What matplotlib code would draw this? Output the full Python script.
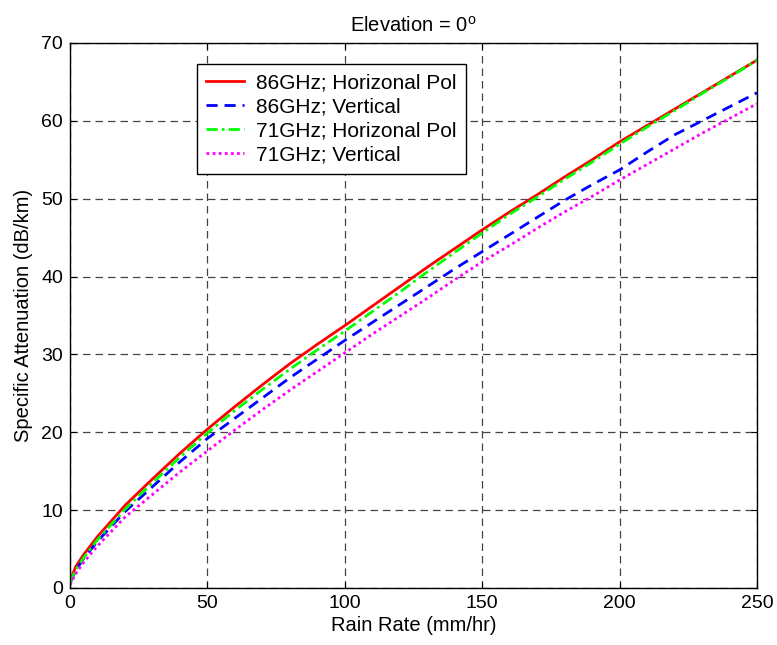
import matplotlib
matplotlib.use("Agg")
import matplotlib.pyplot as plt

plt.rcParams['font.family'] = ['Liberation Sans', 'DejaVu Sans']
plt.rcParams['mathtext.fontset'] = 'custom'
plt.rcParams['mathtext.rm'] = 'Liberation Sans'

rain = [0, 2, 5, 10, 20, 30, 40, 50, 60, 70, 80, 90, 100, 110, 120, 130, 140,
        150, 160, 170, 180, 190, 200, 210, 220, 230, 240, 250]

h86 = [0.8, 2.7, 4.3, 6.6, 10.6, 14.0, 17.3, 20.4, 23.3, 26.1, 28.8, 31.3, 33.7,
       36.2, 38.7, 41.2, 43.6, 46.0, 48.3, 50.5, 52.8, 55.0, 57.3, 59.4, 61.5,
       63.6, 65.7, 67.8]
v86 = [0.6, 2.2, 3.8, 6.0, 9.8, 13.0, 16.2, 19.2, 21.8, 24.4, 27.0, 29.4, 31.8,
       34.1, 36.4, 38.7, 41.0, 43.2, 45.4, 47.6, 49.8, 51.8, 53.7, 56.0, 58.2,
       60.0, 61.8, 63.6]
h71 = [0.7, 2.3, 3.9, 6.2, 10.1, 13.5, 16.8, 19.9, 22.8, 25.5, 28.1, 30.6, 33.0,
       35.5, 38.0, 40.6, 43.1, 45.6, 48.0, 50.2, 52.5, 54.7, 57.0, 59.2, 61.3,
       63.5, 65.6, 67.8]
v71 = [0.4, 1.8, 3.3, 5.4, 9.1, 12.0, 14.9, 17.6, 20.3, 22.9, 25.4, 27.8, 30.2,
       32.6, 34.9, 37.2, 39.6, 41.9, 44.0, 46.2, 48.3, 50.3, 52.4, 54.4, 56.4,
       58.4, 60.3, 62.2]

fig = plt.figure(figsize=(7.77, 6.45), dpi=100)
ax = fig.add_axes([0.0901, 0.0884, 0.8842, 0.845])

lw = 2.0
ax.plot(rain, h86, color='red', linestyle='-', linewidth=lw, label='86GHz; Horizonal Pol')
ax.plot(rain, v86, color='blue', linestyle=(0, (4, 2.5)), linewidth=lw, label='86GHz; Vertical')
ax.plot(rain, h71, color=(0, 1, 0), linestyle=(0, (4, 1.5, 1, 1.5)), linewidth=lw, label='71GHz; Horizonal Pol')
ax.plot(rain, v71, color=(1, 0, 1), linestyle=(0, (1, 1.2)), linewidth=lw, label='71GHz; Vertical')

ax.set_xlim(0, 250)
ax.set_ylim(0, 70)
ax.set_xticks(range(0, 251, 50))
ax.set_yticks(range(0, 71, 10))
ax.grid(True, color='#444444', linestyle=(0, (6, 4)), linewidth=0.9)
ax.tick_params(direction='in', top=True, right=True, labelsize=14, length=4, pad=5)
for s in ax.spines.values():
    s.set_linewidth(1.0)

ax.set_xlabel('Rain Rate (mm/hr)', fontsize=14.5, labelpad=3)
ax.set_ylabel('Specific Attenuation (dB/km)', fontsize=14.5, labelpad=6)
ax.set_title('Elevation = 0$\\mathregular{^o}$', fontsize=14.5, pad=8)

leg = ax.legend(loc='upper left', bbox_to_anchor=(0.185, 0.961), fontsize=15,
                fancybox=False, edgecolor='black', framealpha=1,
                handlelength=1.8, labelspacing=0.24, borderpad=0.45,
                handletextpad=0.6, borderaxespad=0)
leg.get_frame().set_linewidth(1.0)

fig.savefig('out.png', dpi=100)
